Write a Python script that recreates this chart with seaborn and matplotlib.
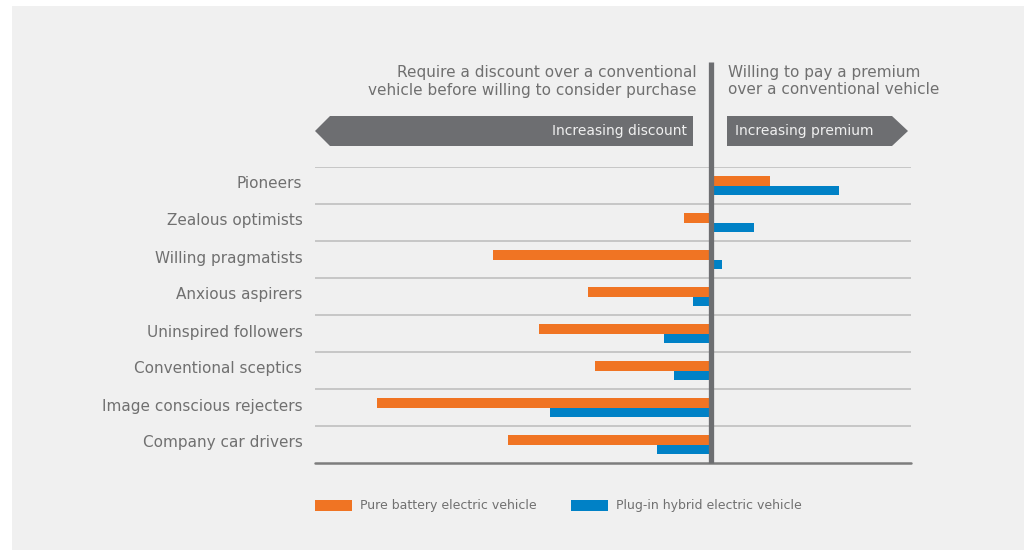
import pandas as pd
import matplotlib
matplotlib.use('Agg')
import matplotlib.pyplot as plt
import matplotlib.transforms as mtransforms
import seaborn as sns
from matplotlib.patches import Rectangle, Polygon, Patch

# Data (relative willingness to pay, arbitrary units)
segments = ["Pioneers", "Zealous optimists", "Willing pragmatists", "Anxious aspirers",
            "Uninspired followers", "Conventional sceptics", "Image conscious rejecters",
            "Company car drivers"]
bev = [5.85, -2.75, -21.85, -12.35, -17.25, -11.65, -33.45, -20.35]
phev = [12.75, 4.25, 1.05, -1.85, -4.75, -3.75, -16.15, -5.45]
series = ["Pure battery electric vehicle", "Plug-in hybrid electric vehicle"]

ORANGE = '#f07423'
BLUE = '#0081c6'
DARK = '#6d6e71'
TEXT = '#707070'
BG = '#f0f0f0'

df = pd.DataFrame({'segment': segments * 2,
                   'value': bev + phev,
                   'series': [series[0]] * len(segments) + [series[1]] * len(segments)})

sns.set_theme(style='white')
plt.rcParams['font.family'] = ['DejaVu Sans']

W, H = 1033, 556
fig = plt.figure(figsize=(W / 100, H / 100), dpi=100, facecolor='white')
fig.patches.append(Rectangle((12 / W, 1 - 550 / H), 1012 / W, 544 / H,
                             transform=fig.transFigure, facecolor=BG, edgecolor='none', zorder=-5))

# axes box in pixels: x 315..911, y 167..463
ax = fig.add_axes([315 / W, 1 - 463 / H, 596 / W, 296 / H])
ax.set_facecolor('none')
ax.set_zorder(2)

sns.barplot(data=df, y='segment', x='value', hue='series', orient='h',
            palette=[ORANGE, BLUE], width=0.54, saturation=1, ax=ax,
            legend=False, zorder=3, linewidth=0, edgecolor='none')

ax.set_xlim(-39.6, 19.95)
ax.set_ylim(len(segments) - 0.5, -0.5)
for s in ax.spines.values():
    s.set_visible(False)
for i in range(len(segments)):
    ax.axhline(i - 0.5, color='#c3c3c3', lw=1.3, zorder=1)
ax.axhline(len(segments) - 0.5, color='#7d7d7d', lw=1.8, zorder=4, clip_on=False)
ax.axvline(0, ymin=0, ymax=(463 - 62) / 296, color=DARK, lw=3.8, zorder=5,
           clip_on=False, solid_capstyle='butt')

ax.set_xticks([])
ax.set_xlabel('')
ax.set_ylabel('')
ax.tick_params(axis='y', length=0, pad=9, labelsize=11, labelcolor=TEXT)
# labels sit slightly above the row centre in the original
shift = mtransforms.ScaledTranslation(0, 3 / 100, fig.dpi_scale_trans)
for lbl in ax.get_yticklabels():
    lbl.set_transform(lbl.get_transform() + shift)

# header texts
def fx(px):
    return px / W

def fy(py):
    return 1 - py / H

fig.text(fx(697), fy(81), "Require a discount over a conventional\nvehicle before willing to consider purchase",
         ha='right', va='center', fontsize=11, color=TEXT, linespacing=1.25)
fig.text(fx(728), fy(81), "Willing to pay a premium\nover a conventional vehicle",
         ha='left', va='center', fontsize=11, color=TEXT, linespacing=1.25)

# direction arrows
left_arrow = [(315, 131), (330, 116), (693, 116), (693, 146), (330, 146)]
right_arrow = [(727, 116), (892, 116), (908, 131), (892, 146), (727, 146)]
for pts in (left_arrow, right_arrow):
    fig.patches.append(Polygon([(fx(x), fy(y)) for x, y in pts], closed=True,
                               transform=fig.transFigure, facecolor=DARK, edgecolor='none', zorder=-4))
fig.text(fx(687), fy(131), "Increasing discount", ha='right', va='center', fontsize=10, color='#f0f0f0')
fig.text(fx(735), fy(131), "Increasing premium", ha='left', va='center', fontsize=10, color='#f0f0f0')

# legend
handles = [Patch(facecolor=ORANGE, edgecolor='none'), Patch(facecolor=BLUE, edgecolor='none')]
fig.legend(handles, series, loc='center left', bbox_to_anchor=(fx(315), fy(506)), ncol=2,
           frameon=False, fontsize=9, labelcolor=TEXT, handlelength=2.95, handleheight=0.95,
           handletextpad=0.65, columnspacing=2.75, borderaxespad=0, borderpad=0)

fig.savefig('out.png', dpi=100, facecolor='white')
